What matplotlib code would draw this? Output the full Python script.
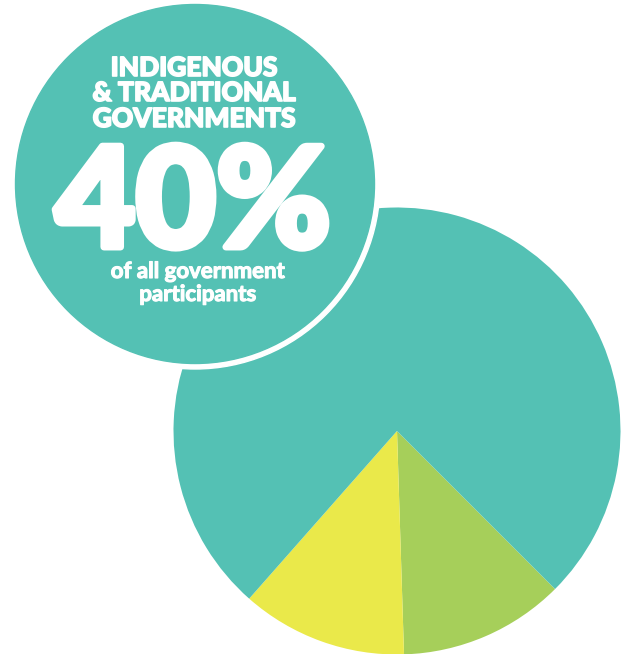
import matplotlib.pyplot as plt
import matplotlib.patheffects as pe
from matplotlib.patches import Circle

# pie shares (%), clockwise from the lower right
shares = [12, 12, 76]
colors = ['#A6CF5A', '#EAE94A', '#54C1B4']

headline = ['INDIGENOUS', '& TRADITIONAL', 'GOVERNMENTS']
big_value = '40%'
sub_lines = ['of all government', 'participants']

W, H = 621, 654
fig = plt.figure(figsize=(W / 100, H / 100), dpi=100)
ax = fig.add_axes([0, 0, 1, 1])

ax.pie(shares, colors=colors, center=(397, 223), radius=223.5,
       startangle=-45, counterclock=False, frame=True,
       wedgeprops=dict(linewidth=0))
ax.set_xlim(0, W)
ax.set_ylim(0, H)
ax.set_aspect('equal')
ax.axis('off')

# badge circle with a white ring separating it from the pie
ax.add_patch(Circle((195, 470), 185, color='white', zorder=3))
ax.add_patch(Circle((195, 470), 179.5, color='#54C1B4', zorder=4))

font = 'Lato'


def heavy(w):
    # thicken the glyphs a little with a white outline
    return [pe.withStroke(linewidth=w, foreground='white')]


for txt, yb in zip(headline, [578, 553, 527]):
    ax.text(194, yb, txt, color='white', fontsize=19, fontweight='black',
            family=font, ha='center', va='baseline', zorder=5,
            path_effects=heavy(1.2))

ax.text(193, 407, big_value, color='white', fontsize=100, fontweight='black',
        family=font, ha='center', va='baseline', zorder=5,
        path_effects=heavy(5))

for txt, yb in zip(sub_lines, [376, 353]):
    ax.text(198, yb, txt, color='white', fontsize=16, fontweight='bold',
            family=font, ha='center', va='baseline', zorder=5,
            path_effects=heavy(0.8))

fig.savefig('out.png', dpi=100)
